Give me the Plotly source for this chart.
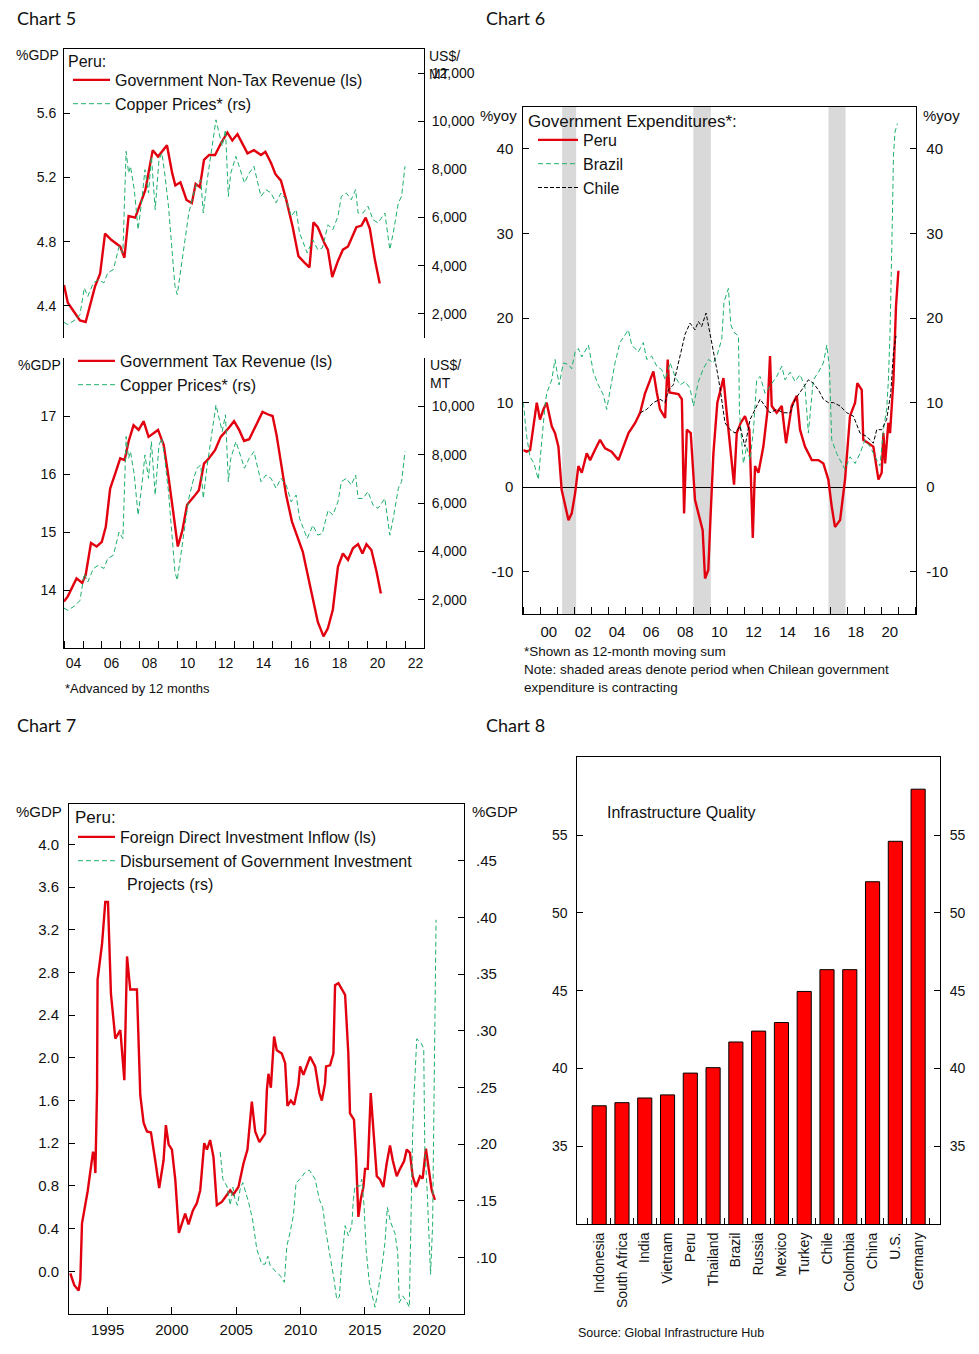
import plotly.graph_objects as go

W, H = 979, 1354
def px(x): return x / W
def py(y): return 1 - y / H

RED = "#E2000E"
GREEN = "#1DB06C"
FONT = "Liberation Sans"

# ---------------- Chart 5 data ----------------
c5_nontax_years = [2004.0, 2004.2, 2004.84, 2005.14, 2005.63, 2005.9, 2006.16, 2006.5, 2006.96, 2007.18,
                   2007.4, 2007.75, 2008.28, 2008.67, 2008.95, 2009.42, 2009.69, 2009.86, 2010.13, 2010.45,
                   2010.73, 2010.93, 2011.15, 2011.37, 2011.64, 2011.95, 2012.25, 2012.6, 2012.86, 2013.13,
                   2013.66, 2014.0, 2014.37, 2014.6, 2014.9, 2015.13, 2015.42, 2015.7, 2016.04, 2016.34,
                   2016.66, 2016.92, 2017.13, 2017.36, 2017.71, 2017.89, 2018.12, 2018.42, 2018.68, 2018.95,
                   2019.39, 2019.66, 2019.88, 2020.1, 2020.36, 2020.62]
c5_nontax = [4.53, 4.42, 4.31, 4.30, 4.52, 4.60, 4.85, 4.81, 4.77, 4.70,
             4.96, 4.95, 5.12, 5.37, 5.33, 5.40, 5.23, 5.15, 5.17, 5.06,
             5.04, 5.16, 5.14, 5.31, 5.34, 5.34, 5.41, 5.48, 5.43, 5.47,
             5.35, 5.37, 5.34, 5.36, 5.29, 5.22, 5.18, 5.06, 4.89, 4.71,
             4.67, 4.64, 4.92, 4.89, 4.79, 4.75, 4.58, 4.68, 4.75, 4.77,
             4.89, 4.90, 4.95, 4.88, 4.69, 4.54]

c5_tax_years = [2004.0, 2004.2, 2004.66, 2004.96, 2005.14, 2005.42, 2005.72, 2005.99, 2006.2, 2006.43,
                2006.7, 2006.96, 2007.19, 2007.4, 2007.66, 2007.93, 2008.19, 2008.45, 2008.95, 2009.25,
                2009.51, 2009.78, 2009.99, 2010.22, 2010.48, 2010.84, 2011.1, 2011.37, 2011.63, 2011.95,
                2012.25, 2012.69, 2012.95, 2013.22, 2013.48, 2013.75, 2014.1, 2014.45, 2014.72, 2014.98,
                2015.19, 2015.42, 2015.69, 2016.0, 2016.3, 2016.57, 2016.83, 2017.1, 2017.36, 2017.66,
                2017.89, 2018.15, 2018.42, 2018.68, 2018.95, 2019.21, 2019.48, 2019.71, 2019.92, 2020.18,
                2020.45, 2020.68]
c5_tax = [13.80, 13.89, 14.20, 14.12, 14.26, 14.81, 14.75, 14.83, 15.09, 15.75,
          16.01, 16.27, 16.24, 16.56, 16.84, 16.76, 16.91, 16.64, 16.76, 16.50,
          15.93, 15.29, 14.75, 15.01, 15.47, 15.61, 15.72, 16.18, 16.27, 16.41,
          16.64, 16.80, 16.91, 16.76, 16.57, 16.60, 16.84, 17.07, 17.03, 17.00,
          16.67, 16.16, 15.64, 15.18, 14.92, 14.66, 14.26, 13.86, 13.45, 13.20,
          13.34, 13.66, 14.40, 14.63, 14.52, 14.72, 14.79, 14.63, 14.79, 14.69,
          14.32, 13.94]

copper_years = [2004.0, 2004.2, 2004.6, 2004.84, 2005.07, 2005.25, 2005.55, 2005.8, 2006.1, 2006.3,
                2006.6, 2006.9, 2007.1, 2007.27, 2007.4, 2007.5, 2007.7, 2007.9, 2008.1, 2008.26,
                2008.45, 2008.6, 2008.8, 2009.0, 2009.15, 2009.3, 2009.5, 2009.7, 2009.84, 2009.96,
                2010.13, 2010.3, 2010.57, 2010.83, 2011.0, 2011.2, 2011.33, 2011.54, 2011.8, 2012.0,
                2012.16, 2012.33, 2012.5, 2012.65, 2012.78, 2013.05, 2013.22, 2013.5, 2013.75, 2014.0,
                2014.2, 2014.37, 2014.63, 2014.9, 2015.16, 2015.42, 2015.7, 2015.96, 2016.22, 2016.4,
                2016.6, 2016.8, 2017.1, 2017.36, 2017.6, 2017.9, 2018.15, 2018.42, 2018.6, 2018.86,
                2019.12, 2019.35, 2019.48, 2019.74, 2020.0, 2020.27, 2020.53, 2020.89, 2021.15, 2021.33,
                2021.6, 2021.77, 2021.95]
copper = [1650, 1560, 1760, 1970, 3080, 2730, 3290, 3420, 3290, 3700,
          3840, 4800, 4530, 8750, 7850, 8130, 7160, 5500, 6740, 7990,
          7020, 8540, 6330, 8400, 8680, 7850, 6470, 4390, 3150, 2800,
          3700, 4810, 6190, 7020, 7440, 7570, 6190, 7570, 8960, 10060,
          9510, 8960, 9650, 6880, 7850, 8540, 8130, 7440, 7850, 8130,
          7440, 6880, 7160, 7020, 6610, 7020, 6740, 6050, 6330, 5360,
          4950, 4530, 5080, 4670, 4740, 5700, 5500, 6050, 6880, 7020,
          6740, 7160, 6190, 6190, 6470, 5910, 5780, 6190, 4670, 5360,
          6610, 6880, 8130]

c5_xlabels = ["04", "06", "08", "10", "12", "14", "16", "18", "20", "22"]

# ---------------- Chart 6 data ----------------
peru_years = [1999.0, 1999.2, 1999.4, 1999.6, 1999.79, 1999.98, 2000.18, 2000.37, 2000.67, 2000.86,
              2001.06, 2001.25, 2001.45, 2001.65, 2001.84, 2002.04, 2002.23, 2002.43, 2002.72, 2002.92,
              2003.2, 2003.5, 2003.8, 2004.18, 2004.58, 2004.87, 2005.17, 2005.56, 2005.85, 2006.14,
              2006.63, 2006.83, 2007.02, 2007.32, 2007.47, 2007.57, 2007.8, 2008.1, 2008.3, 2008.43,
              2008.59, 2008.82, 2009.07, 2009.37, 2009.52, 2009.66, 2009.85, 2009.99, 2010.15, 2010.38,
              2010.74, 2010.93, 2011.22, 2011.36, 2011.52, 2011.75, 2012.0, 2012.26, 2012.46, 2012.59,
              2012.79, 2013.08, 2013.32, 2013.47, 2013.57, 2013.86, 2014.16, 2014.41, 2014.74, 2015.04,
              2015.23, 2015.52, 2015.92, 2016.31, 2016.6, 2016.89, 2017.09, 2017.28, 2017.58, 2017.87,
              2018.16, 2018.46, 2018.59, 2018.85, 2018.94, 2019.24, 2019.53, 2019.83, 2020.02, 2020.12,
              2020.22, 2020.41, 2020.51, 2020.71, 2020.86, 2021.0]
peru = [4.4, 4.2, 4.4, 7.2, 10.0, 8.0, 9.2, 10.0, 7.2, 6.4,
        4.8, -0.3, -2.3, -3.9, -3.1, -0.7, 2.5, 1.7, 4.0, 3.2,
        4.4, 5.6, 4.6, 4.2, 3.2, 4.8, 6.4, 7.6, 8.8, 11.1,
        13.7, 11.2, 9.2, 8.2, 15.1, 11.2, 11.1, 11.0, 10.4, -3.1,
        6.8, 6.4, -1.5, -3.9, -5.1, -10.8, -9.8, -3.1, 4.0, 10.0,
        12.9, 8.8, 2.8, 0.3, 6.4, 7.6, 8.4, 6.8, -6.0, 2.5,
        1.7, 4.8, 9.0, 15.5, 9.6, 8.8, 9.6, 5.2, 9.6, 10.8,
        6.8, 4.8, 3.2, 3.2, 2.8, 0.9, -2.3, -4.7, -3.9, 0.9,
        8.4, 10.0, 12.3, 11.5, 5.6, 5.2, 4.8, 0.9, 1.7, 6.4,
        2.8, 7.6, 6.4, 12.7, 21.4, 25.6]

brazil_years = [1999.0, 1999.2, 1999.39, 1999.63, 1999.88, 2000.08, 2000.27, 2000.37, 2000.67, 2000.86,
                2001.1, 2001.35, 2001.65, 2001.84, 2002.04, 2002.23, 2002.43, 2002.82, 2003.11, 2003.4,
                2003.7, 2003.89, 2004.18, 2004.38, 2004.67, 2005.16, 2005.36, 2005.75, 2006.04, 2006.24,
                2006.53, 2006.83, 2007.12, 2007.32, 2007.61, 2007.9, 2008.2, 2008.49, 2008.78, 2008.98,
                2009.27, 2009.56, 2009.86, 2010.15, 2010.38, 2010.64, 2010.77, 2011.03, 2011.17, 2011.36,
                2011.62, 2011.68, 2011.91, 2012.1, 2012.3, 2012.5, 2012.69, 2012.89, 2013.18, 2013.47,
                2013.86, 2014.16, 2014.35, 2014.65, 2014.94, 2015.23, 2015.52, 2015.72, 2016.01, 2016.31,
                2016.6, 2016.8, 2016.95, 2017.09, 2017.38, 2017.58, 2017.87, 2018.16, 2018.46, 2018.75,
                2019.04, 2019.33, 2019.73, 2019.92, 2020.12, 2020.31, 2020.41, 2020.51, 2020.65, 2020.71,
                2020.8, 2020.94]
brazil = [10.0, 6.0, 3.6, 2.8, 0.9, 5.6, 9.6, 11.1, 12.7, 15.1,
          12.1, 14.7, 14.5, 14.0, 16.0, 16.4, 15.4, 16.8, 13.6, 12.1,
          10.9, 9.2, 12.7, 14.7, 17.1, 18.6, 16.8, 16.0, 17.1, 15.1,
          15.5, 14.3, 13.9, 12.7, 14.7, 13.1, 12.1, 12.5, 11.7, 9.6,
          12.5, 14.0, 15.1, 14.7, 15.7, 17.5, 21.9, 23.5, 19.2, 18.3,
          17.9, 8.8, 2.8, 4.8, 3.2, 6.8, 12.7, 13.1, 11.1, 11.9,
          13.1, 14.3, 12.7, 13.6, 12.5, 13.3, 11.9, 6.4, 12.7, 13.6,
          14.7, 16.8, 14.3, 5.6, 4.0, 3.2, 2.1, 3.6, 2.8, 4.0,
          5.6, 4.8, 3.2, 2.5, 6.8, 9.2, 12.5, 18.3, 32.1, 39.2,
          42.0, 43.0]

chile_years = [2005.85, 2006.24, 2006.63, 2007.02, 2007.32, 2007.51, 2007.8, 2008.2, 2008.49, 2008.78,
               2009.07, 2009.27, 2009.46, 2009.72, 2009.95, 2010.15, 2010.38, 2010.54, 2010.83, 2011.13,
               2011.42, 2011.71, 2012.0, 2012.3, 2012.59, 2012.89, 2013.18, 2013.47, 2013.86, 2014.26,
               2014.65, 2014.94, 2015.33, 2015.72, 2016.01, 2016.31, 2016.6, 2016.89, 2017.19, 2017.58,
               2017.97, 2018.36, 2018.75, 2019.14, 2019.53, 2019.73, 2020.02, 2020.31, 2020.55, 2020.71,
               2020.86]
chile = [8.8, 9.2, 10.0, 10.4, 10.0, 11.5, 12.1, 15.7, 18.1, 19.4,
         18.6, 19.6, 19.0, 20.6, 18.3, 16.0, 13.6, 11.7, 7.6, 6.8,
         6.4, 7.2, 4.8, 8.0, 9.2, 10.4, 9.6, 8.8, 9.2, 8.8,
         8.8, 10.4, 11.5, 12.7, 12.3, 11.5, 10.4, 10.0, 10.0, 9.6,
         8.8, 8.4, 6.4, 6.0, 5.2, 6.8, 6.8, 8.0, 11.1, 15.9,
         17.9]

# periods when Chilean government expenditure is contracting (start, end)
c6_shade_periods = [(2001.28, 2002.1), (2008.97, 2010.0), (2016.9, 2017.9)]
c6_xlabels = ["00", "02", "04", "06", "08", "10", "12", "14", "16", "18", "20"]
c6_yticks = [-10, 0, 10, 20, 30, 40]

# ---------------- Chart 7 data ----------------
fdi_years = [1992.1, 1992.41, 1992.75, 1992.88, 1993.01, 1993.27, 1993.45, 1993.71, 1993.87, 1993.97,
             1994.05, 1994.18, 1994.22, 1994.57, 1994.82, 1995.03, 1995.26, 1995.6, 1995.99, 1996.3,
             1996.51, 1996.76, 1997.28, 1997.54, 1997.8, 1998.06, 1998.37, 1998.7, 1999.01, 1999.35,
             1999.53, 1999.74, 2000.0, 2000.26, 2000.54, 2000.78, 2001.03, 2001.29, 2001.63, 2001.94,
             2002.2, 2002.51, 2002.72, 2002.97, 2003.23, 2003.49, 2003.88, 2004.53, 2004.78, 2005.17,
             2005.56, 2005.87, 2006.21, 2006.47, 2006.8, 2007.24, 2007.38, 2007.5, 2007.69, 2007.94,
             2008.15, 2008.54, 2008.8, 2008.98, 2009.24, 2009.5, 2009.83, 2009.96, 2010.22, 2010.74,
             2011.13, 2011.46, 2011.65, 2011.9, 2011.98, 2012.29, 2012.55, 2012.68, 2012.94, 2013.46,
             2013.71, 2013.84, 2014.15, 2014.31, 2014.49, 2014.67, 2014.88, 2015.01, 2015.22, 2015.45,
             2015.65, 2015.92, 2016.17, 2016.43, 2016.69, 2016.95, 2017.16, 2017.47, 2017.73, 2018.04,
             2018.25, 2018.5, 2018.71, 2018.97, 2019.28, 2019.49, 2019.74, 2019.92, 2020.19, 2020.44]
fdi = [-0.02, -0.13, -0.18, -0.08, 0.45, 0.61, 0.75, 0.98, 1.12, 1.07,
       0.92, 1.70, 2.73, 3.07, 3.46, 3.46, 2.60, 2.18, 2.26, 1.79,
       2.95, 2.64, 2.64, 1.65, 1.39, 1.31, 1.30, 1.04, 0.78, 1.04,
       1.37, 1.19, 1.14, 0.86, 0.36, 0.45, 0.54, 0.44, 0.57, 0.64,
       0.76, 1.20, 1.14, 1.23, 1.07, 0.62, 0.65, 0.76, 0.72, 0.79,
       1.01, 1.14, 1.59, 1.31, 1.21, 1.29, 1.70, 1.85, 1.72, 2.20,
       2.07, 2.04, 1.95, 1.55, 1.60, 1.56, 1.75, 1.92, 1.84, 2.01,
       1.92, 1.67, 1.60, 1.76, 1.92, 1.93, 2.04, 2.68, 2.70, 2.59,
       2.04, 1.48, 1.42, 1.07, 0.51, 0.67, 0.79, 0.96, 0.96, 1.67,
       1.32, 0.89, 0.86, 0.79, 1.01, 1.18, 1.04, 0.89, 0.96, 1.03,
       1.14, 1.11, 0.89, 0.79, 0.89, 0.87, 1.15, 1.01, 0.76, 0.67]

disb_years = [2003.75, 2003.96, 2004.27, 2004.53, 2004.74, 2004.91, 2005.09, 2005.3, 2005.51, 2005.95,
              2006.26, 2006.6, 2006.99, 2007.24, 2007.45, 2007.63, 2008.02, 2008.41, 2008.74, 2008.93,
              2009.18, 2009.44, 2009.65, 2009.96, 2010.35, 2010.68, 2011.13, 2011.46, 2011.72, 2011.98,
              2012.29, 2012.55, 2012.81, 2013.01, 2013.2, 2013.46, 2013.71, 2013.98, 2014.1, 2014.23,
              2014.62, 2014.75, 2014.93, 2015.09, 2015.34, 2015.61, 2015.78, 2016.04, 2016.3, 2016.56,
              2016.74, 2017.0, 2017.34, 2017.55, 2017.67, 2017.93, 2018.19, 2018.45, 2018.71, 2018.84,
              2019.03, 2019.38, 2019.57, 2019.65, 2019.84, 2020.1, 2020.26, 2020.37, 2020.45, 2020.53]
disb = [0.193, 0.169, 0.163, 0.146, 0.162, 0.151, 0.146, 0.160, 0.166, 0.149,
        0.134, 0.107, 0.094, 0.094, 0.101, 0.093, 0.088, 0.084, 0.078, 0.110,
        0.122, 0.137, 0.166, 0.169, 0.175, 0.177, 0.169, 0.151, 0.144, 0.122,
        0.101, 0.084, 0.063, 0.065, 0.096, 0.128, 0.119, 0.128, 0.151, 0.163,
        0.163, 0.169, 0.146, 0.107, 0.078, 0.063, 0.056, 0.072, 0.090, 0.113,
        0.144, 0.131, 0.121, 0.104, 0.060, 0.066, 0.062, 0.056, 0.210, 0.249,
        0.293, 0.289, 0.284, 0.198, 0.158, 0.085, 0.128, 0.240, 0.322, 0.398]

c7_xticks = [1995, 2000, 2005, 2010, 2015, 2020]
c7_left_ticks = [0.0, 0.4, 0.8, 1.2, 1.6, 2.0, 2.4, 2.8, 3.2, 3.6, 4.0]
c7_right_ticks = [0.10, 0.15, 0.20, 0.25, 0.30, 0.35, 0.40, 0.45]

# ---------------- Chart 8 data ----------------
countries = ["Indonesia", "South Africa", "India", "Vietnam", "Peru", "Thailand", "Brazil", "Russia",
             "Mexico", "Turkey", "Chile", "Colombia", "China", "U.S.", "Germany"]
infra_quality = [37.6, 37.8, 38.1, 38.3, 39.7, 40.05, 41.7, 42.4, 42.95, 44.95, 46.35, 46.35, 52.0, 54.6, 57.95]

# ---------------- Figure ----------------
fig = go.Figure()

fig.add_trace(go.Scatter(x=c5_nontax_years, y=c5_nontax, mode="lines", name="Government Non-Tax Revenue (ls)",
                         line=dict(color=RED, width=2.4), xaxis="x", yaxis="y", legend="legend",
                         legendgroup="a1"))
fig.add_trace(go.Scatter(x=copper_years, y=copper, mode="lines", name="Copper Prices* (rs)",
                         line=dict(color=GREEN, width=1, dash="5px,3px"), xaxis="x", yaxis="y2",
                         legend="legend", legendgroup="a2"))
fig.add_trace(go.Scatter(x=c5_tax_years, y=c5_tax, mode="lines", name="Government Tax Revenue (ls)",
                         line=dict(color=RED, width=2.4), xaxis="x2", yaxis="y3", legend="legend2",
                         legendgroup="b1"))
fig.add_trace(go.Scatter(x=copper_years, y=copper, mode="lines", name="Copper Prices* (rs)",
                         line=dict(color=GREEN, width=1, dash="5px,3px"), xaxis="x2", yaxis="y4",
                         legend="legend2", legendgroup="b2"))
fig.add_trace(go.Scatter(x=peru_years, y=peru, mode="lines", name="Peru",
                         line=dict(color=RED, width=2.4), xaxis="x3", yaxis="y5", legend="legend3",
                         legendgroup="c1"))
fig.add_trace(go.Scatter(x=brazil_years, y=brazil, mode="lines", name="Brazil",
                         line=dict(color=GREEN, width=1, dash="5px,3px"), xaxis="x3", yaxis="y5",
                         legend="legend3", legendgroup="c2"))
fig.add_trace(go.Scatter(x=chile_years, y=chile, mode="lines", name="Chile",
                         line=dict(color="black", width=1, dash="4px,2px"), xaxis="x3", yaxis="y6",
                         legend="legend3", legendgroup="c3"))
fig.add_trace(go.Scatter(x=fdi_years, y=fdi, mode="lines", name="Foreign Direct Investment Inflow (ls)",
                         line=dict(color=RED, width=2.4), xaxis="x4", yaxis="y7", legend="legend4",
                         legendgroup="d1"))
fig.add_trace(go.Scatter(x=disb_years, y=disb, mode="lines",
                         name="Disbursement of Government Investment",
                         line=dict(color=GREEN, width=1, dash="5px,3px"), xaxis="x4", yaxis="y8",
                         legend="legend4", legendgroup="d2"))
fig.add_trace(go.Bar(x=countries, y=infra_quality, marker=dict(color="#FF0000", line=dict(color="black", width=1)),
                     xaxis="x5", yaxis="y9", showlegend=False, width=0.62))
fig.add_trace(go.Scatter(x=countries, y=infra_quality, mode="markers", marker=dict(opacity=0),
                         xaxis="x5", yaxis="y10", showlegend=False, hoverinfo="skip"))

tickfont = dict(family=FONT, size=14, color="#111")
tickfont15 = dict(family=FONT, size=15, color="#111")
base_y = dict(showgrid=False, zeroline=False, showline=True, linecolor="black", linewidth=1,
              ticks="inside", ticklen=6, tickcolor="black")

shapes = []
for (a, b) in c6_shade_periods:
    shapes.append(dict(type="rect", xref="x3", yref="y5 domain", x0=a, x1=b, y0=0, y1=1,
                       fillcolor="#D9D9D9", line=dict(width=0), layer="below"))

c5x_dom = [px(64), px(424)]
legend_common = dict(bgcolor="rgba(0,0,0,0)", borderwidth=0, xanchor="left", yanchor="top",
                     traceorder="grouped")

fig.update_layout(
    width=W, height=H, autosize=False,
    margin=dict(l=0, r=0, t=0, b=0),
    paper_bgcolor="white", plot_bgcolor="rgba(0,0,0,0)",
    font=dict(family=FONT, size=14, color="#111"),
    shapes=shapes,
    xaxis=dict(domain=c5x_dom, anchor="y", range=[2004, 2022.95], side="top", showline=True,
               linecolor="black", linewidth=1, ticks="", showticklabels=False,
               showgrid=False, zeroline=False),
    yaxis=dict(domain=[py(338), py(49)], anchor="x", range=[4.2, 6.0], tickvals=[4.4, 4.8, 5.2, 5.6],
               tickformat=".1f", side="left", ticklabelstandoff=4, tickfont=tickfont, **base_y),
    yaxis2=dict(overlaying="y", anchor="x", side="right", range=[1000, 13000],
                tickvals=[2000, 4000, 6000, 8000, 10000, 12000], tickformat=",d", ticklabelstandoff=4,
                tickfont=tickfont, **base_y),
    xaxis2=dict(domain=c5x_dom, anchor="y3", range=[2004, 2022.95], showline=True, linecolor="black",
                linewidth=1, ticks="", tickvals=[2000 + int(s) + 0.5 for s in c5_xlabels], ticktext=c5_xlabels,
                minor=dict(ticks="inside", tick0=2004, dtick=1, ticklen=7, tickcolor="black"),
                ticklabelstandoff=2, tickfont=tickfont, showgrid=False, zeroline=False),
    yaxis3=dict(domain=[py(648), py(358)], anchor="x2", range=[13, 18], tickvals=[14, 15, 16, 17],
                side="left", ticklabelstandoff=4, tickfont=tickfont, **base_y),
    yaxis4=dict(overlaying="y3", anchor="x2", side="right", range=[0, 12000],
                tickvals=[2000, 4000, 6000, 8000, 10000], tickformat=",d", ticklabelstandoff=4,
                tickfont=tickfont, **base_y),
    xaxis3=dict(domain=[px(523.3), px(916.3)], anchor="y5", range=[1999, 2022.05], showline=True,
                mirror=True, linecolor="black", linewidth=1, ticks="",
                tickvals=[2000 + int(s) + 0.5 for s in c6_xlabels], ticktext=c6_xlabels,
                minor=dict(ticks="inside", tick0=2000, dtick=1, ticklen=7, tickcolor="black"),
                ticklabelstandoff=4, tickfont=tickfont15, showgrid=False, zeroline=False),
    yaxis5=dict(domain=[py(614), py(106.7)], anchor="x3", range=[-15, 45], tickvals=c6_yticks,
                ticktext=[str(v) for v in c6_yticks], side="left", ticklabelstandoff=6,
                showgrid=False, zeroline=True, zerolinecolor="black", zerolinewidth=1,
                showline=True, linecolor="black", linewidth=1, ticks="inside", ticklen=6,
                tickcolor="black", tickfont=tickfont15),
    yaxis6=dict(overlaying="y5", anchor="x3", side="right", range=[-15, 45], tickvals=c6_yticks,
                ticktext=[str(v) for v in c6_yticks], ticklabelstandoff=6, tickfont=tickfont15, **base_y),
    xaxis4=dict(domain=[px(69), px(464)], anchor="y7", range=[1992, 2022.7], showline=True, mirror=True,
                linecolor="black", linewidth=1, ticks="inside", ticklen=7, tickcolor="black",
                tickvals=c7_xticks, ticktext=[str(v) for v in c7_xticks], ticklabelstandoff=2,
                tickfont=tickfont15, showgrid=False, zeroline=False),
    yaxis7=dict(domain=[py(1314), py(804.3)], anchor="x4", range=[-0.4, 4.375], tickvals=c7_left_ticks,
                tickformat=".1f", side="left", ticklabelstandoff=6, tickfont=tickfont15, **base_y),
    yaxis8=dict(overlaying="y7", anchor="x4", side="right", range=[0.05, 0.5], tickvals=c7_right_ticks,
                ticktext=[("%.2f" % v)[1:] for v in c7_right_ticks], ticklabelstandoff=8,
                tickfont=tickfont15, **base_y),
    xaxis5=dict(domain=[px(577.3), px(940)], anchor="y9", type="category", showline=True, mirror=True,
                linecolor="black", linewidth=1, ticks="inside", tickson="boundaries", ticklen=6,
                tickcolor="black", tickangle=-90, tickfont=tickfont,
                ticklabelstandoff=2, showgrid=False, zeroline=False),
    yaxis9=dict(domain=[py(1224), py(757.3)], anchor="x5", range=[30, 60], tickvals=[35, 40, 45, 50, 55],
                side="left", ticklabelstandoff=6, tickfont=tickfont, **base_y),
    yaxis10=dict(overlaying="y9", anchor="x5", side="right", range=[30, 60], tickvals=[35, 40, 45, 50, 55],
                 ticklabelstandoff=6, tickfont=tickfont, **base_y),
    bargap=0.38,
    legend=dict(x=px(68), y=py(63), font=dict(family=FONT, size=16, color="#111"), tracegroupgap=0,
                itemwidth=37, **legend_common),
    legend2=dict(x=px(73), y=py(344), font=dict(family=FONT, size=16, color="#111"), tracegroupgap=0,
                 itemwidth=37, **legend_common),
    legend3=dict(x=px(533), y=py(123), font=dict(family=FONT, size=16, color="#111"), tracegroupgap=0,
                 itemwidth=40, **legend_common),
    legend4=dict(x=px(73), y=py(820), font=dict(family=FONT, size=16, color="#111"), tracegroupgap=0,
                 itemwidth=37, **legend_common),
)

def ann(text, x, y, size=14, xanchor="left", yanchor="middle", family=FONT, align="left"):
    fig.add_annotation(text=text, x=px(x), y=py(y), xref="paper", yref="paper", showarrow=False,
                       xanchor=xanchor, yanchor=yanchor, align=align,
                       font=dict(family=family, size=size, color="#111"))

TITLE_FONT = "Lato"
ann("Chart 5", 15, 18, size=18, family=TITLE_FONT)
ann("Chart 6", 484, 18, size=18, family=TITLE_FONT)
ann("Chart 7", 15, 725, size=18, family=TITLE_FONT)
ann("Chart 8", 484, 725, size=18, family=TITLE_FONT)

# legend headings / continuation lines
ann("Peru:", 66, 61, size=16)
ann("Government Expenditures*:", 526, 121, size=17)
ann("Peru:", 73, 818, size=17)
ann("Projects (rs)", 125, 884, size=16)

ann("%GDP", 61, 55, xanchor="right")
ann("US$/<br>MT", 427, 46, yanchor="top")
ann("%GDP", 63, 365, xanchor="right")
ann("US$/<br>MT", 428, 355, yanchor="top")
ann("*Advanced by 12 months", 63, 688, size=13)

ann("%yoy", 519, 115, size=15, xanchor="right")
ann("%yoy", 921, 115, size=15)
ann("*Shown as 12-month moving sum", 522, 651, size=13.5)
ann("Note: shaded areas denote period when Chilean government", 522, 669, size=13.5)
ann("expenditure is contracting", 522, 687, size=13.5)

ann("%GDP", 64, 811, size=15, xanchor="right")
ann("%GDP", 470, 811, size=15)

ann("Infrastructure Quality", 605, 812, size=16)
ann("Source: Global Infrastructure Hub", 576, 1333, size=12.5)

fig.write_html("out.html", config={"displayModeBar": False},
               post_script="document.body.style.margin='0px';document.body.style.overflow='hidden';")
